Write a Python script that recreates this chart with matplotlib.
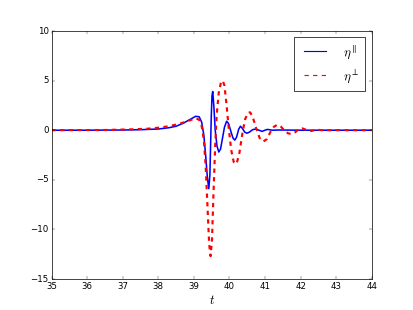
import matplotlib
matplotlib.use("Agg")
import matplotlib.pyplot as plt
from matplotlib.lines import Line2D

plt.style.use("classic")

t_par = [35.0, 36.0, 37.0, 37.5, 38.0, 38.3, 38.5, 38.7, 38.9, 39.05, 39.15, 39.22,
         39.28, 39.33, 39.38, 39.42, 39.45, 39.47, 39.49, 39.51, 39.53, 39.56, 39.6,
         39.65, 39.7, 39.75, 39.8, 39.86, 39.92, 39.97, 40.03, 40.1, 40.15, 40.2,
         40.26, 40.31, 40.36, 40.43, 40.49, 40.56, 40.65, 40.74, 40.83, 40.92, 41.0,
         41.07, 41.2, 41.4, 42.0, 44.0]
eta_par = [0.0, 0.0, 0.02, 0.05, 0.12, 0.25, 0.4, 0.7, 1.1, 1.4, 1.35, 0.8,
           -0.5, -2.5, -4.8, -5.9, -4.5, -1.5, 1.5, 3.5, 3.9, 2.5, 0.0,
           -1.6, -2.2, -1.9, -0.9, 0.3, 0.9, 0.7, 0.0, -0.8, -1.0, -0.7,
           0.1, 0.4, 0.2, -0.2, -0.3, -0.2, 0.05, 0.12, 0.0, -0.12, 0.0,
           0.08, 0.0, 0.02, 0.0, 0.0]

t_perp = [35.0, 36.5, 37.2, 37.7, 38.0, 38.3, 38.6, 38.85, 39.05, 39.15, 39.22, 39.28,
          39.33, 39.38, 39.43, 39.47, 39.51, 39.55, 39.6, 39.64, 39.7, 39.76, 39.81,
          39.86, 39.92, 39.98, 40.05, 40.12, 40.2, 40.28, 40.36, 40.44, 40.52, 40.58,
          40.65, 40.75, 40.85, 40.95, 41.05, 41.15, 41.25, 41.35, 41.45, 41.55, 41.65,
          41.75, 41.85, 41.95, 42.05, 42.15, 42.3, 42.45, 42.6, 44.0]
eta_perp = [0.0, 0.02, 0.08, 0.15, 0.25, 0.4, 0.65, 0.95, 1.2, 1.05, 0.4, -1.0,
            -3.5, -7.5, -11.5, -12.7, -11.0, -6.5, -1.5, 1.5, 3.8, 4.8, 5.0,
            4.5, 2.5, 0.2, -2.0, -3.2, -3.4, -2.3, -0.4, 1.1, 1.75, 1.8,
            1.4, 0.2, -0.8, -1.15, -0.9, -0.2, 0.35, 0.55, 0.35, -0.05, -0.32,
            -0.38, -0.2, 0.1, 0.18, 0.05, -0.08, 0.05, 0.0, 0.0]

labels = [r"$\eta^\parallel$", r"$\eta^\perp$"]
xticks = [35, 36, 37, 38, 39, 40, 41, 42, 43, 44]
yticks = [-15, -10, -5, 0, 5, 10]

dpi = 51.625
fig = plt.figure(figsize=(413 / dpi, 310 / dpi), dpi=dpi, facecolor="white")
ax = fig.add_subplot(111)
ax.plot(t_par, eta_par, color="#0000ff", ls="-", lw=2.2)
ax.plot(t_perp, eta_perp, color="#ff0000", ls="--", lw=3.0)
ax.set_xlim(35, 44)
ax.set_ylim(-15, 10)
ax.set_xticks(xticks)
ax.set_yticks(yticks)
ax.set_xlabel(r"$t$", fontsize=18)
handles = [Line2D([0, 1], [0, 0], color="#0000ff", ls="-", lw=1.6),
           Line2D([0, 1], [0, 0], color="#ff0000", ls="--", lw=1.6)]
ax.legend(handles, labels, loc="upper right", fontsize=18, handlelength=2.3,
          handletextpad=1.0, borderpad=0.45)
fig.savefig("out.png", dpi=dpi, facecolor="white")
